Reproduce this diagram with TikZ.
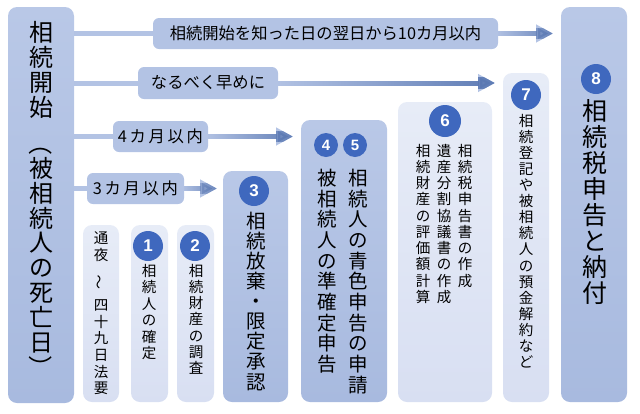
\documentclass[tikz,border=0pt]{standalone}
\usepackage{fontspec}
\setmainfont{Noto Sans CJK JP}
\newfontfamily\numfont{Liberation Sans}
\usepackage{graphicx}
\usetikzlibrary{positioning, arrows.meta, calc, fadings}
\definecolor{paneTop}{HTML}{B9C8E7}
\definecolor{paneBot}{HTML}{A8BADF}
\definecolor{paleTop}{HTML}{E7ECF7}
\definecolor{paleBot}{HTML}{D8DFF2}
\definecolor{tagfill}{HTML}{B3C3E4}
\definecolor{shaftTop}{HTML}{B3C3E4}
\definecolor{shaftBot}{HTML}{5B79B3}
\definecolor{badgeblue}{HTML}{3F68BE}

% vertical text: one glyph per line
\makeatletter
\def\tate@stop{\tate@stop}
\newcommand\tsp{}
\newcommand\tlp{\rotatebox[origin=c]{-90}{（}}
\newcommand\trp{\rotatebox[origin=c]{-90}{）}}
\newcommand\tkara{\rotatebox[origin=c]{90}{～}}
\newlength\tatepitch
\newcommand\tate[2][1.05]{%
  \vbox{\tatepitch=#1em\baselineskip=\tatepitch
    \lineskiplimit=-100pt\lineskip=0pt
    \tate@loop#2\tate@stop}}
\def\tate@loop#1{%
  \ifx\tate@stop#1\else
    \ifx\tsp#1\vskip.5\tatepitch\else\hbox to 1em{\hss#1\hss}\fi
    \expandafter\tate@loop
  \fi}
\makeatother

\begin{document}
\begin{tikzpicture}[x=1pt, y=-1pt,
    every node/.style={inner sep=0pt, outer sep=0pt},
    bigpane/.style={rounded corners=9pt, top color=paneTop, bottom color=paneBot},
    palepane/.style={rounded corners=9pt, top color=paleTop, bottom color=paleBot},
    tagbox/.style={rounded corners=6pt, fill=tagfill, font=\fontsize{16.3}{17}\selectfont},
    badge/.style={circle, fill=badgeblue, text=white, minimum size=30pt,
                  font=\numfont\bfseries\fontsize{17}{17}\selectfont},
    smallbadge/.style={badge, minimum size=24pt, font=\numfont\bfseries\fontsize{15}{15}\selectfont},
    huge/.style={anchor=north, font=\fontsize{24}{24}\selectfont},
    mid/.style={anchor=north, font=\fontsize{19.5}{20}\selectfont},
    small/.style={anchor=north, font=\fontsize{14.5}{15}\selectfont},
    feed/.style={line width=5pt, draw=shaftTop},
    flow/.style={feed, -{Triangle[length=17pt, width=17pt]}, shorten >=8pt,
                 postaction={draw=shaftBot, path fading=west}},
  ]
  \useasboundingbox (0,0) rectangle (640,413);

  % columns
  \node[bigpane, minimum width=66, minimum height=396] (start) at (41,205) {};
  \node[palepane, minimum width=36, minimum height=177] (tsuya) at (101,313.5) {};
  \node[palepane, minimum width=37, minimum height=177] (box1) at (149.5,313.5) {};
  \node[palepane, minimum width=37, minimum height=177] (box2) at (195.5,313.5) {};
  \node[bigpane, minimum width=65, minimum height=231] (box3) at (255.5,286.5) {};
  \node[bigpane, minimum width=86, minimum height=282] (box45) at (344,261) {};
  \node[palepane, minimum width=94, minimum height=300] (box6) at (445,252) {};
  \node[palepane, minimum width=46, minimum height=329] (box7) at (526,237.5) {};
  \node[bigpane, minimum width=66, minimum height=395] (box8) at (594,204.5) {};

  % period tags
  \node[tagbox, minimum width=345, minimum height=31] (lab10) at (325.5,33.5) {相続開始を知った日の翌日から10カ月以内};
  \node[tagbox, minimum width=140, minimum height=32] (labsoon) at (208,83) {なるべく早めに};
  \node[tagbox, minimum width=95, minimum height=31] (lab4) at (160.5,136.5) {4\,カ\,月\,以\,内};
  \node[tagbox, minimum width=97, minimum height=31] (lab3) at (135.5,188.5) {3\,カ\,月\,以\,内};

  \draw[feed] (start.east |- lab10.west) -- (lab10.west);
  \draw[feed] (start.east |- labsoon.west) -- (labsoon.west);
  \draw[feed] (start.east |- lab4.west) -- (lab4.west);
  \draw[feed] (start.east |- lab3.west) -- (lab3.west);
  \draw[flow] (lab10.east) -- (lab10.east -| box8.west);
  \draw[flow] (labsoon.east) -- (labsoon.east -| box7.west);
  \draw[flow] (lab4.east) -- (lab4.east -| box45.west);
  \draw[flow, shorten >=6pt] (lab3.east) -- (lab3.east -| box3.west);

  % numbers
  \node[badge] (n1) at (148,246) {1};
  \node[badge] (n2) at (195,246) {2};
  \node[badge] (n3) at (254,191) {3};
  \node[smallbadge] (n4) at (326,145) {4};
  \node[smallbadge] (n5) at (355,145) {5};
  \node[badge, minimum size=32pt] (n6) at (445,121) {6};
  \node[badge] (n7) at (526,95) {7};
  \node[badge] (n8) at (596,79) {8};

  % texts
  \node[huge] (startA) at (41,21) {\tate[1.04]{相続開始}};
  \node[huge] (startB) at (41,131) {\tate[1.04]{\tlp 被相続人の死亡日\trp}};
  \node[small] (tsuyaT) at (101,232) {\tate[1.15]{通夜\tsp\tkara\tsp 四十九日法要}};
  \node[small] (t1) at (149,264) {\tate[1.14]{相続人の確定}};
  \node[small] (t2) at (196,264) {\tate[1.12]{相続財産の調査}};
  \node[mid] (t3) at (256,212) {\tate[1.03]{相続放棄・限定承認}};
  \node[mid] (t4) at (327,169) {\tate[1.06]{被相続人の準確定申告}};
  \node[mid] (t5) at (358,169) {\tate[1.06]{相続人の青色申告の申請}};
  \node[small] (t6a) at (465,144) {\tate[1.12]{相続税申告書の作成}};
  \node[small] (t6b) at (444,144) {\tate[1.12]{遺産分割協議書の作成}};
  \node[small] (t6c) at (423,144) {\tate[1.12]{相続財産の評価額計算}};
  \node[small] (t7) at (526,114) {\tate[1.11]{相続登記や被相続人の預金解約など}};
  \node[anchor=north, font=\fontsize{25}{25}\selectfont] (t8) at (595,99) {\tate[1.04]{相続税申告と納付}};
\end{tikzpicture}
\end{document}
